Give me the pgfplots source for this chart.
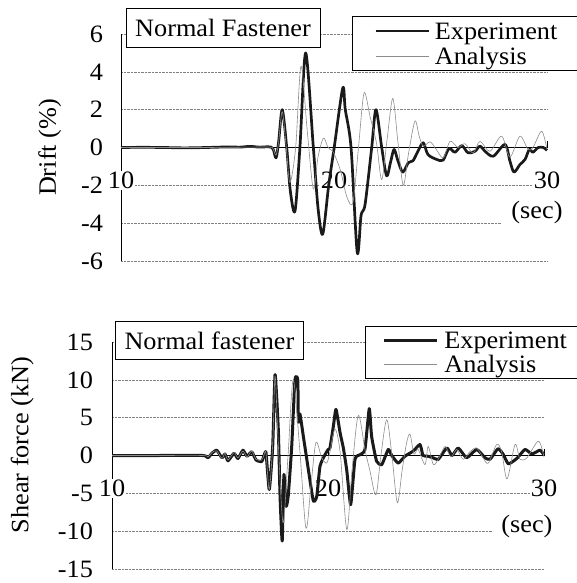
\documentclass[border=0pt]{standalone}
\usepackage{pgfplots}
\pgfplotsset{compat=1.18}
\usepackage{fontspec}
\setmainfont{Liberation Serif}[FakeStretch=1.05]
\newcommand{\F}{\fontsize{25}{29}\selectfont}
\definecolor{expc}{HTML}{1A1A1A}
\definecolor{anac}{HTML}{8C8C8C}
\pgfplotsset{
  mystyle/.style={
    scale only axis,
    xmin=10, xmax=30,
    axis x line=middle, axis y line=left,
    axis line style={-, line width=0.6pt, black},
    xtick={10,20,30},
    hide obscured x ticks=false, hide obscured y ticks=false,
    tick label style={font=\F},
    /pgf/number format/assume math mode=true,
    xticklabel style={anchor=center, yshift=-33pt, fill=white, inner sep=1pt},
    ytick style={draw=none},
    xtick style={line width=0.6pt, black},
    tick align=inside, major tick length=7pt,
    ymajorgrids, grid style={densely dotted, line width=0.6pt, gray},
    clip=false,
    legend cell align=left,
    legend image code/.code={\draw[##1] (0pt,0pt) -- (53pt,0pt);},
    label style={font=\F},
  },
  exp/.style={color=expc, line width=2.7pt, line join=round},
  ana/.style={color=anac, line width=0.6pt, line join=round},
}
\begin{document}
\begin{tikzpicture}
\useasboundingbox (0,0) rectangle (576pt,-583pt);
% ---------------- top panel ----------------
\begin{axis}[mystyle,
  at={(121pt,-261pt)}, anchor=south west,
  width=426pt, height=227pt,
  ymin=-6, ymax=6, ytick={-6,-4,...,6},
  yticklabel style={xshift=-14.5pt},
  ylabel={Drift (\%)},
  ylabel style={at={(axis description cs:-0.167,0.5)}, anchor=center},
  legend style={at={(axis description cs:0.542,1.079)}, anchor=north west,
    draw=black, line width=0.6pt, fill=white, font=\F,
    inner xsep=22pt, inner ysep=3pt, row sep=2pt,
    nodes={inner sep=0pt, text height=20pt, text depth=3pt},
    /tikz/column sep=5pt},
]
\addplot[exp, smooth, tension=0.5] coordinates {
(10,0) (11,0.01) (12,0) (13,-0.02) (14,0) (15,0.03) (15.6,0.02) (16.06,0.06) (16.5,0.02) (16.9,0.04) (17.05,0.02) (17.15,-0.1) (17.28,-0.55) (17.4,0.3) (17.57,2.0) (17.78,0) (17.95,-2.3) (18.17,-3.35) (18.4,0) (18.67,5.0) (19.03,0) (19.25,-3.2) (19.47,-4.58) (19.75,-2.0) (20.01,0) (20.41,3.14) (20.53,2.0) (20.8,0) (21.09,-5.55) (21.27,-3.6) (21.46,-3.0) (21.77,0) (21.97,2.0) (22.24,0) (22.47,-1.5) (22.65,-0.8) (22.82,-0.1) (23.0,-0.7) (23.23,-1.3) (23.49,-0.8) (23.71,-0.7) (23.94,-0.2) (24.19,0.25) (24.41,-0.37) (24.82,-0.63) (25.12,-0.67) (25.40,-0.05) (25.68,-0.25) (26.0,0.1) (26.29,-0.28) (26.62,-0.2) (26.85,0.07) (27.09,-0.2) (27.48,-0.46) (28.03,0.16) (28.26,-0.72) (28.45,-1.3) (28.73,-0.9) (28.97,-0.63) (29.17,-0.1) (29.34,-0.25) (29.59,0.0) (29.83,0.0) (30.0,-0.15)
};
\addlegendentry{Experiment\hspace{12pt}}
\addplot[ana, smooth, tension=0.5] coordinates {
(10,0) (12,0) (14,0) (16,0.02) (17.0,0.02) (17.15,-0.1) (17.28,-0.4) (17.4,0.3) (17.57,1.9) (17.76,0) (17.93,-1.86) (18.2,0) (18.45,4.3) (18.75,0.8) (19.03,-2.2) (19.25,-0.5) (19.5,0.5) (19.68,0.1) (19.81,-0.1) (19.97,-0.25) (20.3,-1.2) (20.6,-2.6) (20.89,-2.9) (21.15,0) (21.41,2.88) (21.69,1.65) (22.0,0.2) (22.24,-1.7) (22.5,0.5) (22.76,2.6) (23.0,0.3) (23.25,-2.0) (23.5,-0.3) (23.80,1.4) (24.0,0.6) (24.19,0.07) (24.51,0.3) (24.8,-0.1) (25.13,-0.55) (25.45,0.33) (25.82,0.0) (26.15,0.2) (26.53,-0.3) (26.85,0.33) (27.32,-0.2) (27.87,0.6) (28.26,-0.5) (28.73,0.6) (29.11,-0.1) (29.34,0.0) (29.75,0.86) (30.0,-0.1)
};
\addlegendentry{Analysis}
\node[draw, fill=white, font=\F, line width=0.6pt, inner xsep=9pt, minimum height=39pt] at (axis cs:14.79,6.34) {Normal Fastener};
\node[fill=white, font=\F, inner xsep=9pt, inner ysep=2pt] at (axis cs:29.53,-3.42) {(sec)};
\end{axis}
% ---------------- bottom panel ----------------
\begin{axis}[mystyle,
  at={(112pt,-569pt)}, anchor=south west,
  width=432pt, height=227pt,
  ymin=-15, ymax=15, ytick={-15,-10,...,15},
  yticklabel style={xshift=-15.5pt},
  ylabel={Shear force (kN)},
  ylabel style={at={(axis description cs:-0.208,0.546)}, anchor=center},
  legend style={at={(axis description cs:0.586,1.070)}, anchor=north west,
    draw=black, line width=0.6pt, fill=white, font=\F,
    inner xsep=17pt, inner ysep=3pt, row sep=2pt,
    nodes={inner sep=0pt, text height=19pt, text depth=3pt},
    /tikz/column sep=6pt},
]
\addplot[exp, line width=3pt, smooth, tension=0.3] coordinates {
(10,0) (12,0) (14.21,0) (14.44,-0.3) (14.63,0.3) (14.85,0.7) (15.09,-0.3) (15.23,0.2) (15.37,-0.7) (15.65,0.3) (15.83,-0.4) (16.06,0.7) (16.25,-0.1) (16.47,0.5) (16.67,-0.6) (16.93,-0.8) (17.04,0.0) (17.13,0.4) (17.28,-4.5) (17.44,1.2) (17.55,10.7) (17.70,3.4) (17.78,-5.4) (17.88,-11.3) (17.96,-2.5) (18.06,-6.7) (18.16,-5.3) (18.32,1.2) (18.47,10.0) (18.60,10.0) (18.63,4.4) (18.70,5.5) (18.86,2.5) (19.09,-1.85) (19.32,-6.0) (19.48,-5.4) (19.63,-1.4) (19.86,0.1) (20.01,0.8) (20.09,1.0) (20.25,3.9) (20.37,6.1) (20.56,3.0) (20.71,1.0) (20.87,-2.0) (21.05,-6.5) (21.25,-0.5) (21.48,0.1) (21.71,0.8) (21.91,6.2) (22.02,2.5) (22.25,-0.75) (22.49,-1.2) (22.79,0.8) (22.95,0.0) (23.25,-1.0) (23.56,-0.1) (23.95,0.6) (24.26,1.45) (24.40,0.0) (24.64,-0.1) (24.86,-0.3) (25.11,-0.5) (25.50,1.0) (25.74,0.0) (26.03,1.0) (26.42,-0.3) (26.88,0.8) (27.27,-0.3) (27.50,-0.5) (27.87,0.9) (28.10,0.2) (28.35,-1.1) (28.74,-0.4) (29.12,0.8) (29.44,0.2) (29.81,0.7) (30.0,0.1)
};
\addlegendentry{Experiment\hspace{12pt}}
\addplot[ana, smooth, tension=0.5] coordinates {
(10,0) (12,0) (14.21,0) (14.44,-0.2) (14.63,0.4) (14.85,0.6) (15.09,-0.4) (15.23,0.3) (15.37,-0.6) (15.65,0.4) (15.83,-0.3) (16.06,0.6) (16.25,-0.2) (16.47,0.6) (16.67,-0.5) (16.93,-0.6) (17.04,0.1) (17.13,0.3) (17.28,-4.5) (17.44,1.5) (17.55,10.5) (17.69,2.0) (17.92,-8.9) (18.15,0.0) (18.39,10.0) (18.70,0.5) (18.98,-9.6) (19.21,-4.0) (19.44,1.7) (19.71,-0.3) (19.94,-1.0) (20.09,0.5) (20.32,3.5) (20.56,0.5) (20.87,-9.8) (21.11,-2.0) (21.40,5.3) (21.71,0.8) (21.94,-2.0) (22.22,-5.2) (22.45,0.0) (22.72,4.75) (22.96,0.0) (23.21,-6.25) (23.43,-2.0) (23.64,1.7) (23.80,2.8) (23.98,0.2) (24.17,0.8) (24.49,-1.2) (24.64,1.2) (24.88,-1.2) (25.14,-0.3) (25.42,1.2) (25.69,-0.2) (25.96,0.8) (26.26,-0.5) (26.57,0.5) (26.88,1.0) (27.18,-0.3) (27.42,-1.0) (27.81,1.45) (28.04,0.5) (28.29,-3.1) (28.66,1.45) (28.89,-0.5) (29.21,-0.3) (29.74,1.9) (30.0,-0.2)
};
\addlegendentry{Analysis}
\node[draw, fill=white, font=\F, line width=0.6pt, inner xsep=9pt, minimum height=38pt] at (axis cs:14.51,15.19) {Normal fastener};
\node[fill=white, font=\F, inner xsep=9pt, inner ysep=2pt] at (axis cs:29.21,-9.38) {(sec)};
\end{axis}
\end{tikzpicture}
\end{document}
